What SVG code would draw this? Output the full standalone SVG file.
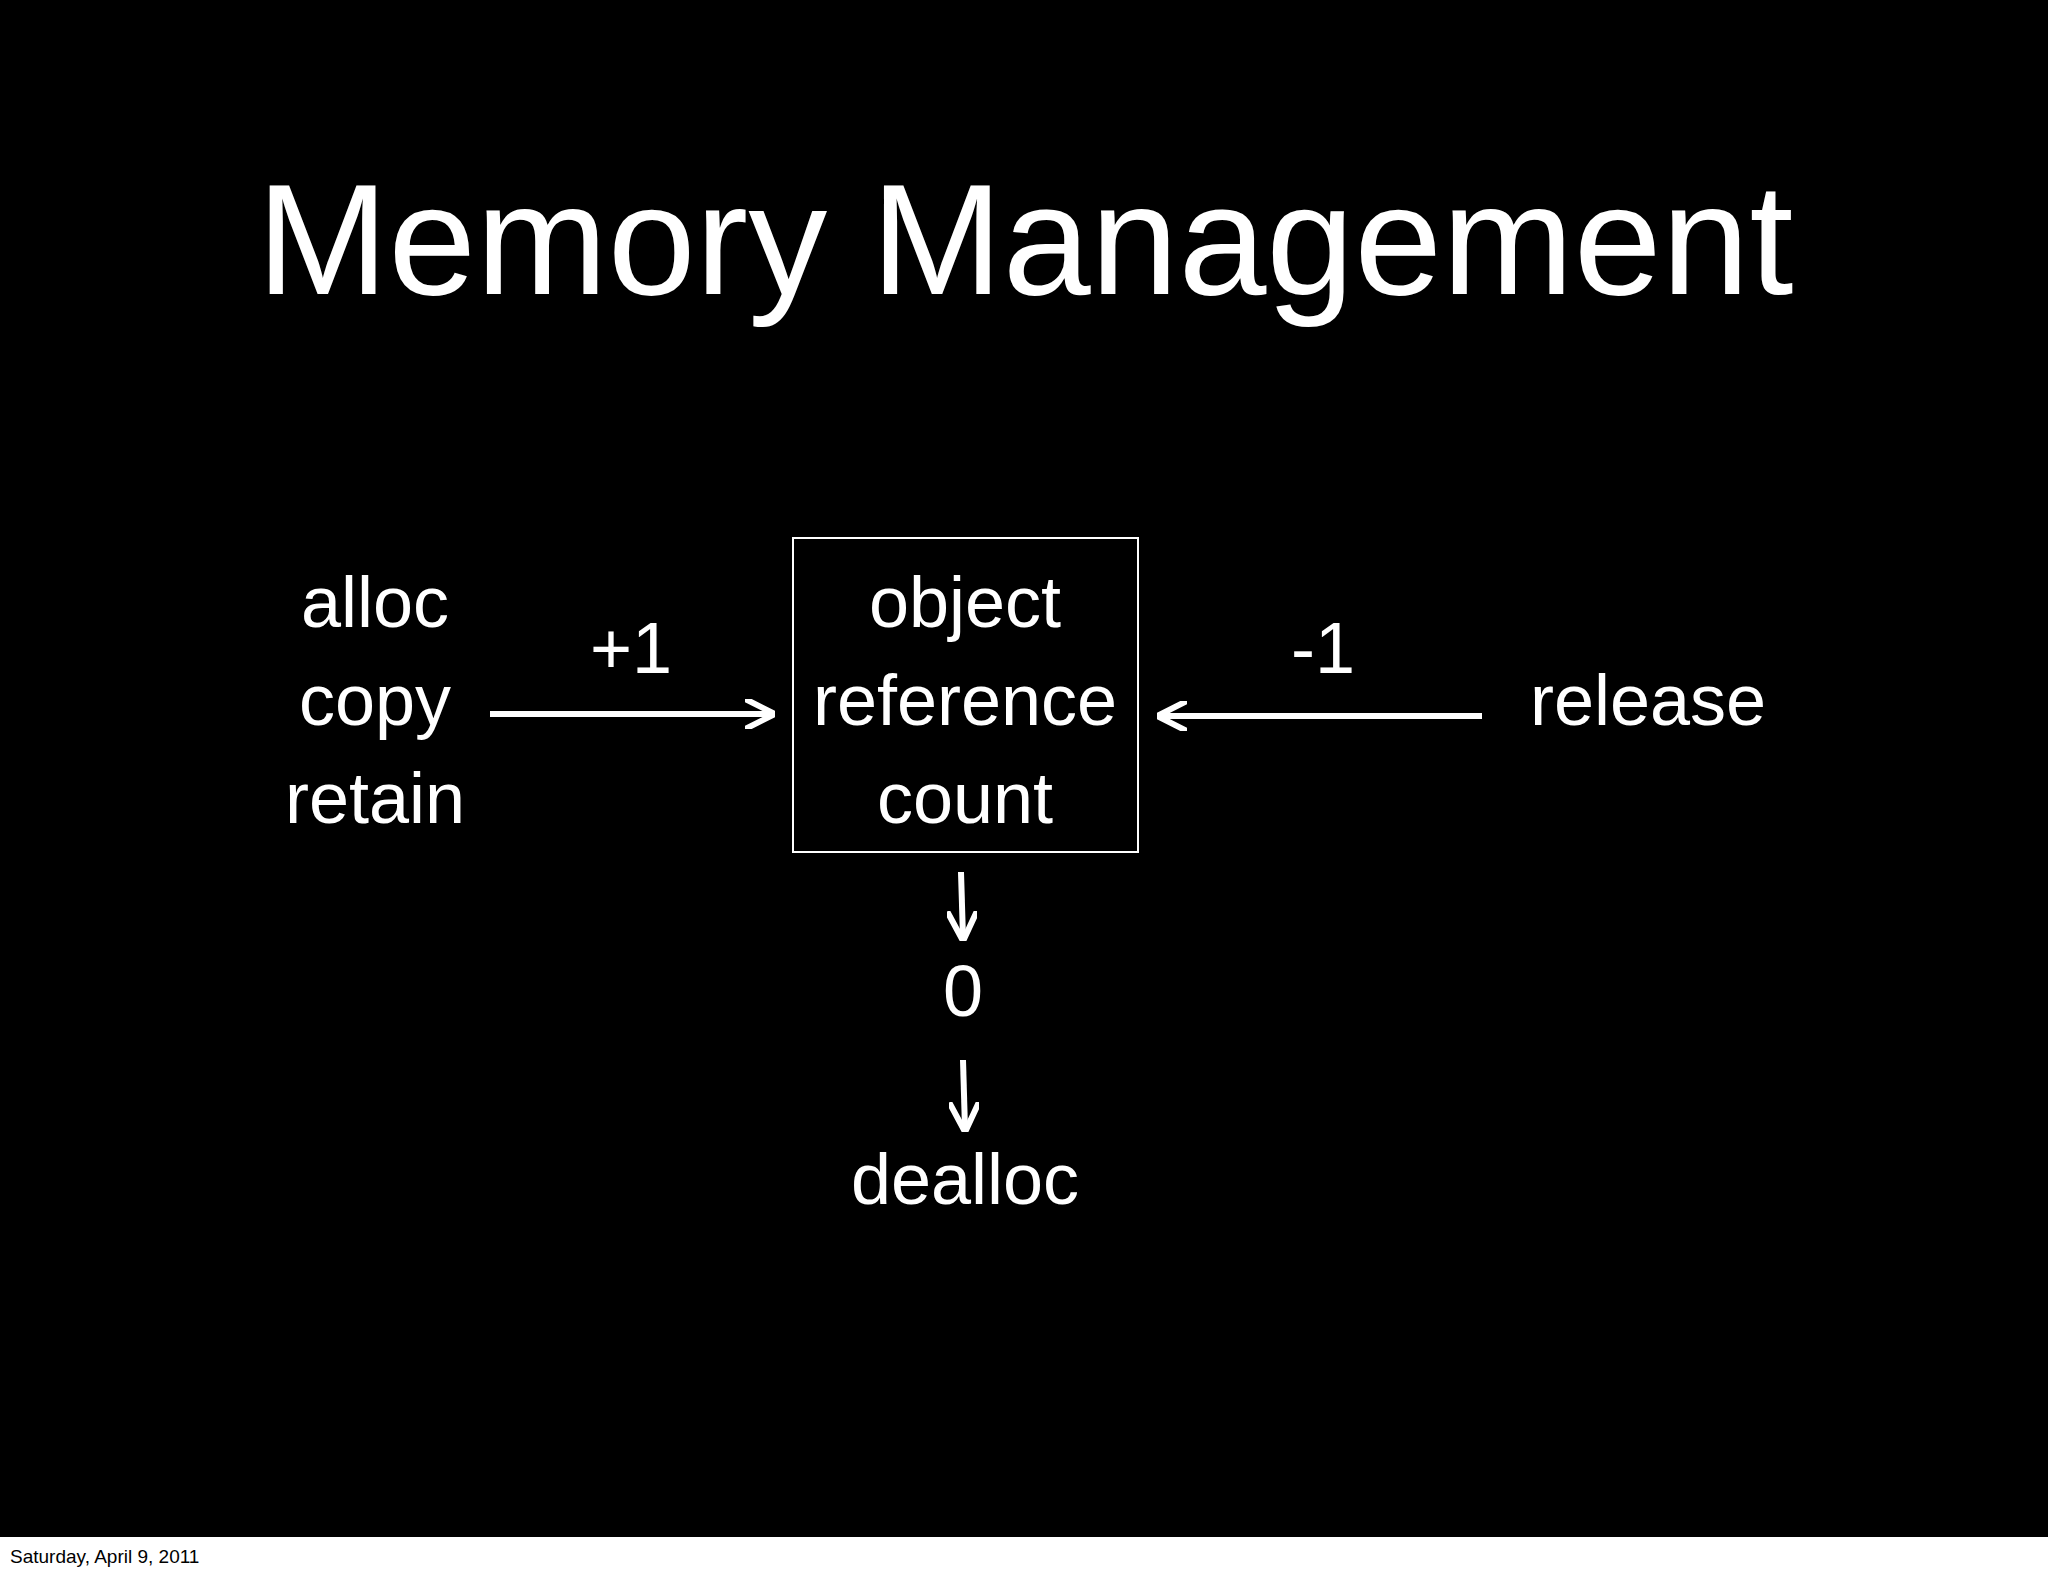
<svg xmlns="http://www.w3.org/2000/svg" width="2048" height="1576" viewBox="0 0 2048 1576">
<defs>
<style>
.t{font-family:"Liberation Sans",Arial,sans-serif;fill:#fff;text-anchor:middle}
.m{font-size:72px}
.c{stroke:#fff;stroke-width:6;fill:none}
</style>
<marker id="ah" viewBox="0 0 10 10" refX="9" refY="5" markerWidth="5" markerHeight="5" orient="auto" markerUnits="strokeWidth">
<path d="M0,0 L10,5 L0,10" fill="none" stroke="#fff" stroke-width="2"/>
</marker>
</defs>
<rect width="2048" height="1576" fill="#fff"/>
<rect x="0" y="0" width="2048" height="1537" fill="#000"/>
<text class="t" x="1025" y="294" font-size="158">Memory Management</text>
<g id="sources"><text class="t m" x="375" y="627">alloc</text><text class="t m" x="375" y="725">copy</text><text class="t m" x="375" y="823">retain</text></g>
<g id="object"><rect x="793" y="538" width="345" height="314" fill="none" stroke="#fff" stroke-width="2"/>
<text class="t m" x="965" y="627">object</text><text class="t m" x="965" y="725">reference</text><text class="t m" x="965" y="823">count</text></g>
<g id="release"><text class="t m" x="1648" y="725">release</text></g>
<g id="zero"><text class="t m" x="963" y="1016">0</text></g>
<g id="dealloc"><text class="t m" x="965" y="1204">dealloc</text></g>
<g id="connectors">
<line class="c" x1="490" y1="714" x2="772" y2="714" marker-end="url(#ah)"/>
<text class="t m" x="631" y="673">+1</text>
<line class="c" x1="1482" y1="716" x2="1160" y2="716" marker-end="url(#ah)"/>
<text class="t m" x="1323" y="673">-1</text>
<line class="c" x1="961" y1="872" x2="963" y2="938" marker-end="url(#ah)"/>
<line class="c" x1="963" y1="1060" x2="965" y2="1129" marker-end="url(#ah)"/>
</g>
<text x="10" y="1563" font-family="Liberation Sans,Arial,sans-serif" font-size="19" fill="#000">Saturday, April 9, 2011</text>
</svg>
